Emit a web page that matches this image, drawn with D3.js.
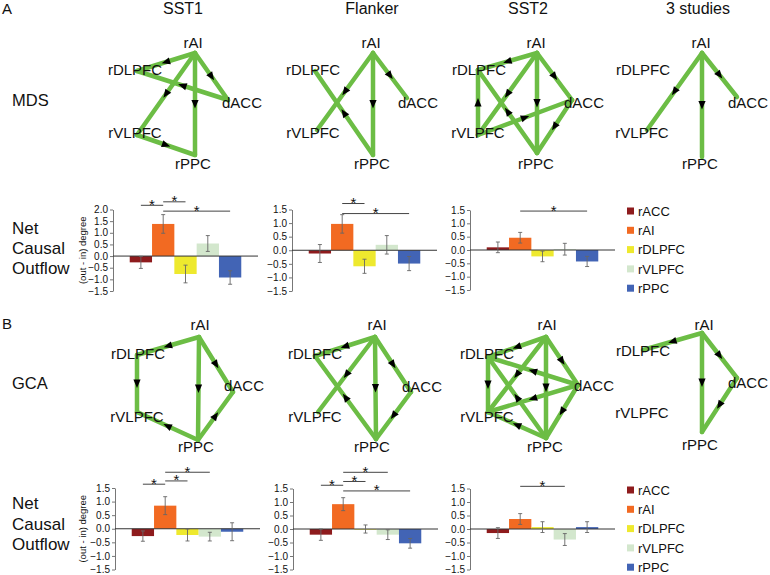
<!DOCTYPE html>
<html><head><meta charset="utf-8">
<script src="https://cdn.jsdelivr.net/npm/d3@7"></script>
<style>
body{margin:0;background:#fff}
svg{display:block}
text{font-family:"Liberation Sans",Arial,Helvetica,sans-serif;fill:#111}
</style>
</head><body>
<svg id="c" width="770" height="575"></svg>
<script>
// ---------------- DATA ----------------
const regions = ["rACC", "rAI", "rDLPFC", "rVLPFC", "rPPC"];
const regionColors = ["#8e1b1d", "#f26a22", "#eee92e", "#d3e7cd", "#4264b5"];
const studyTitles = ["SST1", "Flanker", "SST2", "3 studies"];
const rowLabels = ["MDS", "GCA"];
const panelLetters = ["A", "B"];
const yTicksSST1A = [-1.5, -1.0, -0.5, 0.0, 0.5, 1.0, 1.5, 2.0];
const yTicks = [-1.5, -1.0, -0.5, 0.0, 0.5, 1.0, 1.5];

// net causal outflow (out - in degree), mean and error
const mdsSST1 = [-0.27, 1.38, -0.77, 0.54, -0.92];
const mdsSST1Err = [0.26, 0.40, 0.38, 0.34, 0.29];
const mdsFlanker = [-0.12, 0.97, -0.59, 0.20, -0.49];
const mdsFlankerErr = [0.33, 0.34, 0.26, 0.34, 0.26];
const mdsSST2 = [0.10, 0.46, -0.24, 0.03, -0.43];
const mdsSST2Err = [0.20, 0.20, 0.20, 0.22, 0.19];
const gcaSST1 = [-0.27, 0.85, -0.23, -0.29, -0.11];
const gcaSST1Err = [0.19, 0.33, 0.22, 0.16, 0.33];
const gcaFlanker = [-0.21, 0.92, 0.00, -0.21, -0.53];
const gcaFlankerErr = [0.21, 0.24, 0.15, 0.18, 0.18];
const gcaSST2 = [-0.15, 0.37, 0.07, -0.39, 0.07];
const gcaSST2Err = [0.20, 0.20, 0.20, 0.22, 0.20];

// significance brackets: [from, to, bracket height in data units]
const mdsSST1Sig = [["rACC", "rAI", 2.18], ["rAI", "rDLPFC", 2.33], ["rAI", "rPPC", 1.93]];
const mdsFlankerSig = [["rAI", "rDLPFC", 1.72], ["rAI", "rPPC", 1.35]];
const mdsSST2Sig = [["rAI", "rPPC", 1.46]];
const gcaSST1Sig = [["rACC", "rAI", 1.64], ["rAI", "rDLPFC", 1.76], ["rAI", "rVLPFC", 2.08]];
const gcaFlankerSig = [["rACC", "rAI", 1.62], ["rAI", "rDLPFC", 1.76], ["rAI", "rVLPFC", 2.10], ["rAI", "rPPC", 1.41]];
const gcaSST2Sig = [["rAI", "rVLPFC", 1.58]];

// directed causal edges [source, target]
const mdsSST1Edges = [["rAI","rDLPFC"],["rAI","dACC"],["rAI","rVLPFC"],["rAI","rPPC"],["dACC","rDLPFC"],["rVLPFC","rPPC"]];
const mdsFlankerEdges = [["rAI","rVLPFC"],["rPPC","rDLPFC"],["rAI","rPPC"],["rAI","dACC"]];
const mdsSST2Edges = [["rAI","rDLPFC"],["rAI","dACC"],["rAI","rVLPFC"],["rAI","rPPC"],["rVLPFC","rDLPFC"],["rPPC","rDLPFC"],["rVLPFC","dACC"],["dACC","rPPC"]];
const mds3Edges = [["rAI","rVLPFC"],["rAI","rPPC"],["rAI","dACC"]];
const gcaSST1Edges = [["rAI","rDLPFC"],["rAI","dACC"],["rAI","rPPC"],["rDLPFC","rVLPFC"],["rPPC","dACC"],["rPPC","rVLPFC"]];
const gcaFlankerEdges = [["rAI","rDLPFC"],["rAI","rVLPFC"],["rPPC","rDLPFC"],["rAI","rPPC"],["rAI","dACC"],["dACC","rPPC"]];
const gcaSST2Edges = [["rAI","rDLPFC"],["rAI","dACC"],["rDLPFC","rVLPFC"],["rAI","rPPC"],["dACC","rDLPFC"],["rAI","rVLPFC"],["rPPC","rDLPFC"],["dACC","rVLPFC"],["dACC","rPPC"],["rPPC","rVLPFC"]];
const gca3Edges = [["rAI","rDLPFC"],["rAI","dACC"],["rAI","rPPC"],["dACC","rPPC"]];

const netNodes = ["rAI", "rDLPFC", "dACC", "rVLPFC", "rPPC"];

// ---------------- LAYOUT ----------------
const FONT = '"Liberation Sans",Arial,Helvetica,sans-serif';
const GREEN = "#6cbd45";
// node anchor [x,y] and label centre [x,y] per panel
const layouts = {
  A: [
    {rAI:[[195,53],[193,43]], rDLPFC:[[137,71],[135,70]], dACC:[[228,100],[242,103]], rVLPFC:[[137,135],[135,133]], rPPC:[[195,155],[193,164]]},
    {rAI:[[373,53],[371,43]], rDLPFC:[[315,71],[313,70]], dACC:[[407,98],[418,103]], rVLPFC:[[317,130],[313,133]], rPPC:[[373,155],[372,164]]},
    {rAI:[[537,53],[536,43]], rDLPFC:[[478,70],[479,70]], dACC:[[572,100],[584,103]], rVLPFC:[[478,135],[478,133]], rPPC:[[537,153],[536,164]]},
    {rAI:[[702,53],[701,43]], rDLPFC:[[643,71],[643,70]], dACC:[[737,97],[748,103]], rVLPFC:[[647,130],[642,133]], rPPC:[[702,157],[700,164]]}
  ],
  B: [
    {rAI:[[199,337],[200,325]], rDLPFC:[[137,355],[138,354]], dACC:[[233,392],[244,386]], rVLPFC:[[137,412],[137,417]], rPPC:[[198,440],[196,447]]},
    {rAI:[[375,337],[377,325]], rDLPFC:[[315,356],[315,354]], dACC:[[411,392],[422,387]], rVLPFC:[[318,412],[315,417]], rPPC:[[376,439],[372,447]]},
    {rAI:[[546,337],[547,325]], rDLPFC:[[488,357],[487,354]], dACC:[[578,385],[594,386]], rVLPFC:[[488,412],[487,417]], rPPC:[[546,438],[545,447]]},
    {rAI:[[702,333],[704,325]], rDLPFC:[[643,350],[643,351]], dACC:[[737,378],[748,383]], rVLPFC:[[645,412],[642,413]], rPPC:[[702,432],[700,445]]}
  ]
};

const svg = d3.select("#c");

function txt(x, y, s, size, anchor) {
  return svg.append("text").attr("x", x).attr("y", y).text(s)
    .attr("font-size", size).attr("text-anchor", anchor || "start");
}

// headers
txt(2, 14, panelLetters[0], 15);
txt(2, 329, panelLetters[1], 15);
const titleX = [183, 372, 528, 698];
studyTitles.forEach((t, i) => txt(titleX[i], 14, t, 16, "middle"));
txt(12, 106, rowLabels[0], 16.5);
txt(12, 389, rowLabels[1], 16.5);
[["Net",234],["Causal",254],["Outflow",274]].forEach(d => txt(12, d[1], d[0], 17));
[["Net",509],["Causal",529.5],["Outflow",549.5]].forEach(d => txt(12, d[1], d[0], 17));

// ---------------- NETWORKS ----------------
function network(lay, edges) {
  const g = svg.append("g");
  const pos = n => lay[n][0];
  g.selectAll("line.e").data(edges).join("line")
    .attr("x1", d => pos(d[0])[0]).attr("y1", d => pos(d[0])[1])
    .attr("x2", d => pos(d[1])[0]).attr("y2", d => pos(d[1])[1])
    .attr("stroke", GREEN).attr("stroke-width", 4.5).attr("stroke-linecap", "round");
  g.selectAll("text").data(netNodes).join("text")
    .attr("x", n => lay[n][1][0]).attr("y", n => lay[n][1][1] + 5.4)
    .attr("text-anchor", "middle").attr("font-size", 15).text(n => n);
  g.selectAll("path.a").data(edges).join("path")
    .attr("d", "M4.5,0 L-4,-3.6 L-4,3.6 Z").attr("fill", "#000")
    .attr("transform", d => {
      const a = pos(d[0]), b = pos(d[1]);
      const mx = (a[0] + b[0]) / 2, my = (a[1] + b[1]) / 2;
      const ang = Math.atan2(b[1] - a[1], b[0] - a[0]) * 180 / Math.PI;
      return `translate(${mx},${my}) rotate(${ang})`;
    });
}
network(layouts.A[0], mdsSST1Edges);
network(layouts.A[1], mdsFlankerEdges);
network(layouts.A[2], mdsSST2Edges);
network(layouts.A[3], mds3Edges);
network(layouts.B[0], gcaSST1Edges);
network(layouts.B[1], gcaFlankerEdges);
network(layouts.B[2], gcaSST2Edges);
network(layouts.B[3], gca3Edges);

// ---------------- BAR CHARTS ----------------
function barChart(vals, errs, sigs, ticks, ax, yTop, yBot, showYLabel, yLabelX) {
  const g = svg.append("g");
  const x = d3.scaleBand().domain(regions).range([ax, ax + 145]).paddingInner(0).paddingOuter(0.75);
  const y = d3.scaleLinear().domain([d3.min(ticks), d3.max(ticks)]).range([yBot, yTop]);
  const data = regions.map((r, i) => ({r, v: vals[i], e: errs[i], c: regionColors[i]}));
  const bw = x.bandwidth();

  g.selectAll("rect").data(data).join("rect")
    .attr("x", d => x(d.r)).attr("width", bw)
    .attr("y", d => Math.min(y(d.v), y(0)))
    .attr("height", d => Math.max(0.6, Math.abs(y(d.v) - y(0))))
    .attr("fill", d => d.c);

  const axis = d3.axisLeft(y).tickValues(ticks).tickFormat(d3.format(".1f")).tickSize(3).tickSizeOuter(0).tickPadding(2);
  const ag = g.append("g").attr("transform", `translate(${ax},0)`).call(axis);
  ag.select(".domain").attr("stroke", "#777");
  ag.selectAll(".tick line").attr("stroke", "#777");
  ag.selectAll(".tick text").attr("font-size", 10).attr("font-family", FONT).attr("fill", "#333");

  g.append("line").attr("x1", ax).attr("x2", ax + 145).attr("y1", y(0)).attr("y2", y(0))
    .attr("stroke", "#333").attr("stroke-width", 1);

  const eb = g.selectAll("g.eb").data(data).join("g").attr("stroke", "#666").attr("stroke-width", 0.9);
  eb.append("line").attr("x1", d => x(d.r) + bw / 2).attr("x2", d => x(d.r) + bw / 2)
    .attr("y1", d => y(d.v + d.e)).attr("y2", d => y(d.v - d.e));
  eb.append("line").attr("x1", d => x(d.r) + bw / 2 - 2).attr("x2", d => x(d.r) + bw / 2 + 2)
    .attr("y1", d => y(d.v + d.e)).attr("y2", d => y(d.v + d.e));
  eb.append("line").attr("x1", d => x(d.r) + bw / 2 - 2).attr("x2", d => x(d.r) + bw / 2 + 2)
    .attr("y1", d => y(d.v - d.e)).attr("y2", d => y(d.v - d.e));

  sigs.forEach(s => {
    const x1 = x(s[0]) + bw / 2, x2 = x(s[1]) + bw / 2, yy = y(s[2]);
    g.append("line").attr("x1", x1).attr("x2", x2).attr("y1", yy).attr("y2", yy)
      .attr("stroke", "#444").attr("stroke-width", 1);
    g.append("text").attr("x", (x1 + x2) / 2).attr("y", yy + 4.5).attr("text-anchor", "middle")
      .attr("font-size", 15).text("*");
  });

  if (showYLabel) {
    g.append("text").attr("transform", `translate(${yLabelX},${(yTop + yBot) / 2}) rotate(-90)`)
      .attr("text-anchor", "middle").attr("font-size", 9.5).attr("fill", "#333").text("(out - in) degree");
  }
}

barChart(mdsSST1, mdsSST1Err, mdsSST1Sig, yTicksSST1A, 113, 209.5, 291, true, 86);
barChart(mdsFlanker, mdsFlankerErr, mdsFlankerSig, yTicks, 292, 209.5, 291, false);
barChart(mdsSST2, mdsSST2Err, mdsSST2Sig, yTicks, 470, 210, 290, false);
barChart(gcaSST1, gcaSST1Err, gcaSST1Sig, yTicks, 115, 488, 569.5, true, 86);
barChart(gcaFlanker, gcaFlankerErr, gcaFlankerSig, yTicks, 293, 488.5, 569.5, false);
barChart(gcaSST2, gcaSST2Err, gcaSST2Sig, yTicks, 470, 488.5, 569.5, false);

// ---------------- LEGENDS ----------------
function legend(y0) {
  const g = svg.append("g");
  const rows = g.selectAll("g").data(regions).join("g")
    .attr("transform", (d, i) => `translate(627,${y0 + i * 19.3})`);
  rows.append("rect").attr("x", 0).attr("y", -3.5).attr("width", 7).attr("height", 7)
    .attr("fill", (d, i) => regionColors[i]);
  rows.append("text").attr("x", 11).attr("y", 4.7).attr("font-size", 13).text(d => d);
}
legend(211);
legend(490);
</script>
</body></html>
